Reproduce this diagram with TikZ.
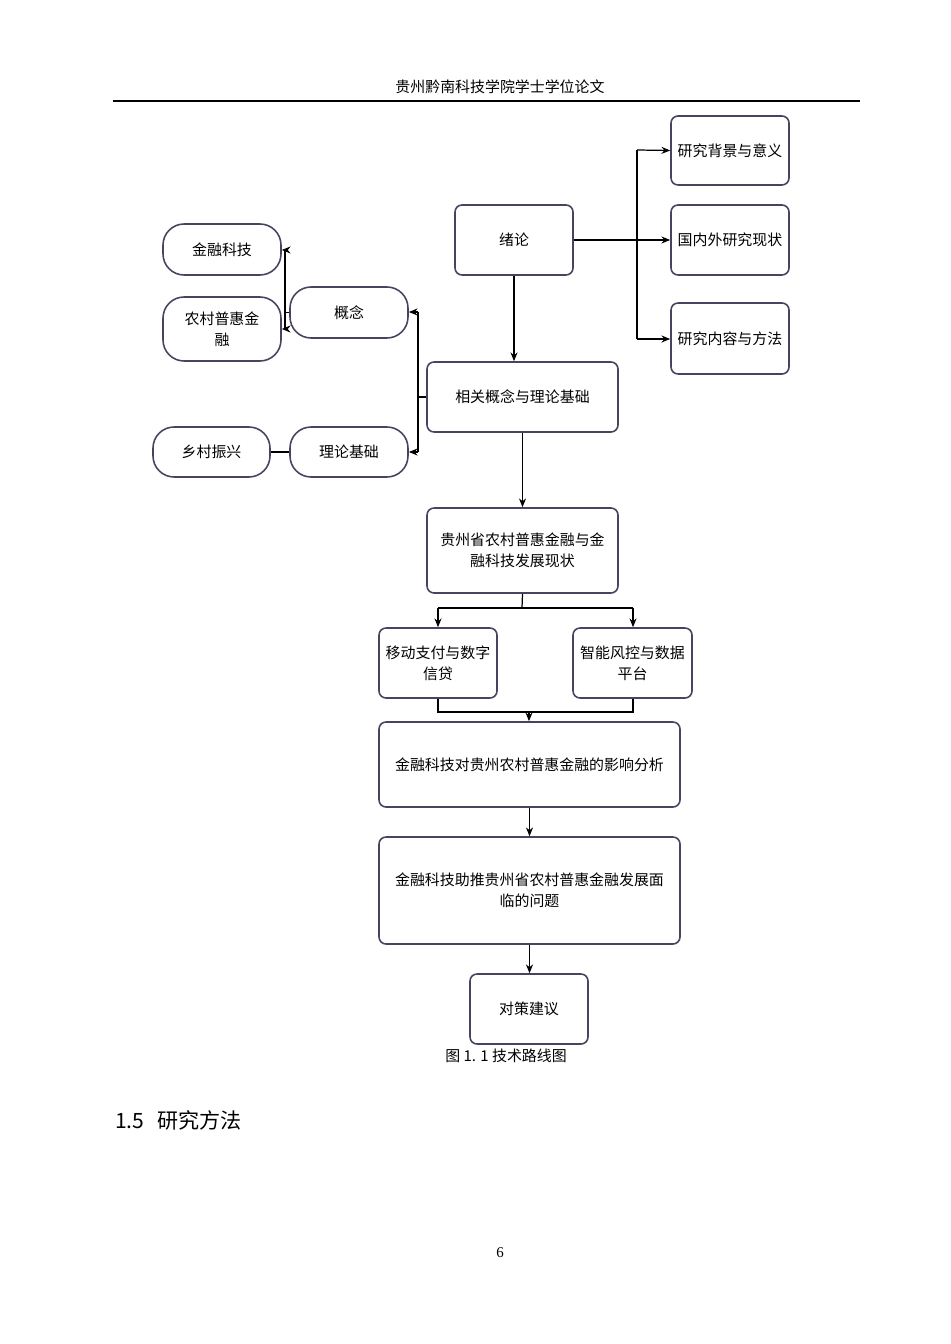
\documentclass[tikz,border=0pt]{standalone}
\usepackage{fontspec}
\setmainfont{Liberation Serif}
\newfontfamily\cjk{Noto Sans CJK SC}
\usetikzlibrary{arrows.meta}
\definecolor{bd}{HTML}{454560}
\tikzset{x=0.02cm,y=-0.02cm,
 bx/.style={draw=bd,line width=0.9pt,rounded corners=4pt,align=center,font=\cjk\fontsize{8.5}{12}\selectfont,inner sep=0pt},
 st/.style={bx,rounded corners=12pt},
 ar/.style={-{Stealth[length=5pt,width=4pt]},line width=0.7pt,black},
 ln/.style={line width=0.7pt,black}}
\newcommand{\bnode}[6]{\node[#1,minimum width=#4*0.02cm,minimum height=#5*0.02cm] (#2) at (#3) {#6};}
\begin{document}
\begin{tikzpicture}
\useasboundingbox (0,0) rectangle (950,1344);
\node[font=\cjk\fontsize{8.5}{10}\selectfont] (hd) at (500,87) {贵州黔南科技学院学士学位论文};
\draw[line width=1.2pt] (113,101) coordinate (h1) -- (860,101) coordinate (h2);
\bnode{bx}{xl}{514,240}{118}{70}{绪论}
\bnode{bx}{r1}{730,150.5}{118}{69}{研究背景与意义}
\bnode{bx}{r2}{730,240}{118}{70}{国内外研究现状}
\bnode{bx}{r3}{730,338.5}{118}{71}{研究内容与方法}
\bnode{bx}{xg}{522.5,397}{191}{70}{相关概念与理论基础}
\bnode{st}{gn}{349,312.5}{118}{51}{概念}
\bnode{st}{jr}{222,249.5}{118}{51}{金融科技}
\bnode{st}{nc}{222,329}{118}{64}{农村普惠金\\融}
\bnode{st}{ll}{349,452}{118}{50}{理论基础}
\bnode{st}{xc}{211.5,452}{117}{50}{乡村振兴}
\bnode{bx}{gz}{522.5,550.5}{191}{85}{贵州省农村普惠金融与金\\融科技发展现状}
\bnode{bx}{yd}{438,663}{118}{70}{移动支付与数字\\信贷}
\bnode{bx}{zn}{632.5,663}{119}{70}{智能风控与数据\\平台}
\bnode{bx}{yx}{529.5,764.5}{301}{85}{金融科技对贵州农村普惠金融的影响分析}
\bnode{bx}{wt}{529.5,890.5}{301}{107}{金融科技助推贵州省农村普惠金融发展面\\临的问题}
\bnode{bx}{dc}{529,1009}{118}{70}{对策建议}
% connectors
\draw[ln] (xl.east) -- (637,240) coordinate (b1);
\draw[ln] (637,150) coordinate (b1t) -- (637,339) coordinate (b1b);
\draw[ar] (b1t) -- (r1.west);
\draw[ar] (b1) -- (r2.west);
\draw[ar] (b1b) -- (r3.west|-b1b);
\draw[ar] (xl.south) -- (xl.south|-xg.north);
\draw[ln] (xg.west) -- (418,397) coordinate (b2);
\draw[ln] (418,312) coordinate (b2t) -- (418,452) coordinate (b2b);
\draw[ar] (b2t) -- (gn.east|-b2t);
\draw[ar] (b2b) -- (ll.east);
\draw[ln] (gn.west) -- (285,312.5) coordinate (b3);
\draw[ln] (285,250) coordinate (b3t) -- (285,329) coordinate (b3b);
\draw[ar] (b3t) -- (jr.east|-b3t);
\draw[ar] (b3b) -- (nc.east|-b3b);
\draw[ln] (ll.west) -- (xc.east);
\draw[ar] (xg.south) -- (xg.south|-gz.north);
\draw[ln] (gz.south) -- (522,608) coordinate (b4);
\draw[ln] (438,608) coordinate (b4l) -- (633,608) coordinate (b4r);
\draw[ar] (b4l) -- (yd.north);
\draw[ar] (b4r) -- (zn.north-|b4r);
\draw[ln] (yd.south) -- (438,712) coordinate (b5l) -- (633,712) coordinate (b5r) -- (zn.south-|b5r);
\draw[ar] (529,712) coordinate (b5) -- (b5|-yx.north);
\draw[ar] (yx.south) -- (wt.north);
\draw[ar] (wt.south) -- (dc.north-|wt.south);
\node[font=\cjk\fontsize{8.5}{10}\selectfont] (cap) at (506,1056) {图 1. 1 技术路线图};
\node[anchor=west,font=\cjk\fontsize{12}{14}\selectfont] (sec) at (109,1120) {1.5\hspace{0.6em}研究方法};
\node[font=\fontsize{8.5}{10}\selectfont] (pg) at (500,1253) {6};
\end{tikzpicture}
\end{document}
